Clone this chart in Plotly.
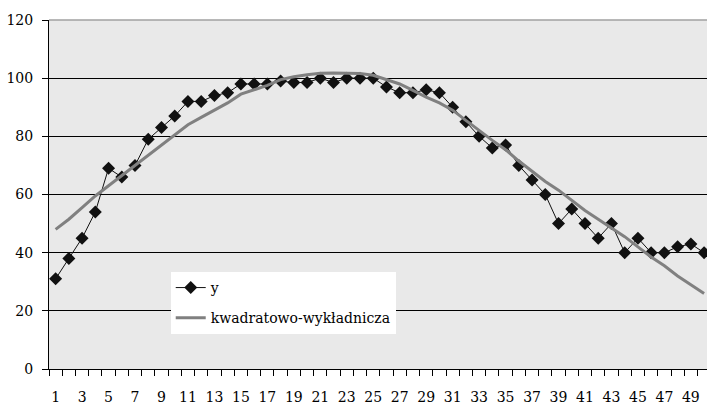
import plotly.graph_objects as go

# Observation index 1..50
t = list(range(1, 51))

# Observed series y
y = [31, 38, 45, 54, 69, 66, 70, 79, 83, 87,
     92, 92, 94, 95, 98, 98, 98, 99, 98.5, 98.5,
     100, 98.5, 100, 100, 100, 97, 95, 95, 96, 95,
     90, 85, 80, 76, 77, 70, 65, 60, 50, 55,
     50, 45, 50, 40, 45, 40, 40, 42, 43, 40]

# Fitted quadratic-exponential trend
trend = [48, 51.5, 55.5, 59.5, 63, 66.5, 70, 73.5, 77, 80.5,
         84, 86.5, 89, 91.5, 94.5, 96, 97.5, 99.5, 100.5, 101.2,
         101.7, 101.8, 101.8, 101.6, 101, 99.5, 98, 95.8, 93.5, 91.5,
         89, 85.5, 82, 78.6, 75.4, 71.5, 68, 64.5, 61.5, 58,
         54.5, 51.5, 48.5, 45.5, 42, 38.5, 35.5, 32, 29, 26]

y_ticks = [0, 20, 40, 60, 80, 100, 120]
x_labels = list(range(1, 51, 2))

serif = "DejaVu Serif"

fig = go.Figure()
fig.add_trace(go.Scatter(
    x=t, y=y, mode="lines+markers", name="y", legendgroup="a",
    line=dict(color="#111111", width=1),
    marker=dict(symbol="diamond", size=10, color="#111111",
                line=dict(width=0)),
))
fig.add_trace(go.Scatter(
    x=t, y=trend, mode="lines", name="kwadratowo-wykładnicza",
    legendgroup="b",
    line=dict(color="#808080", width=3),
))

fig.update_layout(
    width=707, height=410,
    margin=dict(l=49, r=0, t=20, b=41),
    paper_bgcolor="white",
    plot_bgcolor="#e9e9e9",
    font=dict(family=serif, size=14, color="black"),
    showlegend=True,
    legend=dict(
        x=0.185, y=0.278, xanchor="left", yanchor="top",
        bgcolor="white", borderwidth=0,
        font=dict(family=serif, size=14, color="black"),
        tracegroupgap=9,
    ),
    xaxis=dict(
        range=[0.5, 50.22],
        tickmode="array", tickvals=x_labels,
        ticks="outside", ticklen=6, tickcolor="rgba(0,0,0,0)",
        ticklabelstandoff=9,
        tickfont=dict(family=serif, size=14, color="black"),
        showgrid=False, zeroline=False,
        showline=True, linecolor="black", linewidth=1,
        minor=dict(tickmode="array",
                   tickvals=[i + 0.5 for i in range(0, 51)],
                   ticks="outside", ticklen=6, tickcolor="black",
                   tickwidth=1, showgrid=False),
    ),
    yaxis=dict(
        range=[0, 120],
        tickmode="array", tickvals=y_ticks,
        ticks="outside", ticklen=6, tickcolor="black",
        ticklabelstandoff=6,
        tickfont=dict(family=serif, size=14, color="black"),
        showgrid=True, gridcolor="black", gridwidth=1,
        zeroline=False,
        showline=True, linecolor="black", linewidth=1,
    ),
    shapes=[dict(type="line", xref="paper", yref="paper",
                 x0=0, x1=1, y0=1, y1=1,
                 line=dict(color="#a0a0a0", width=1.5), layer="above")],
)

fig.write_html("out.html")
